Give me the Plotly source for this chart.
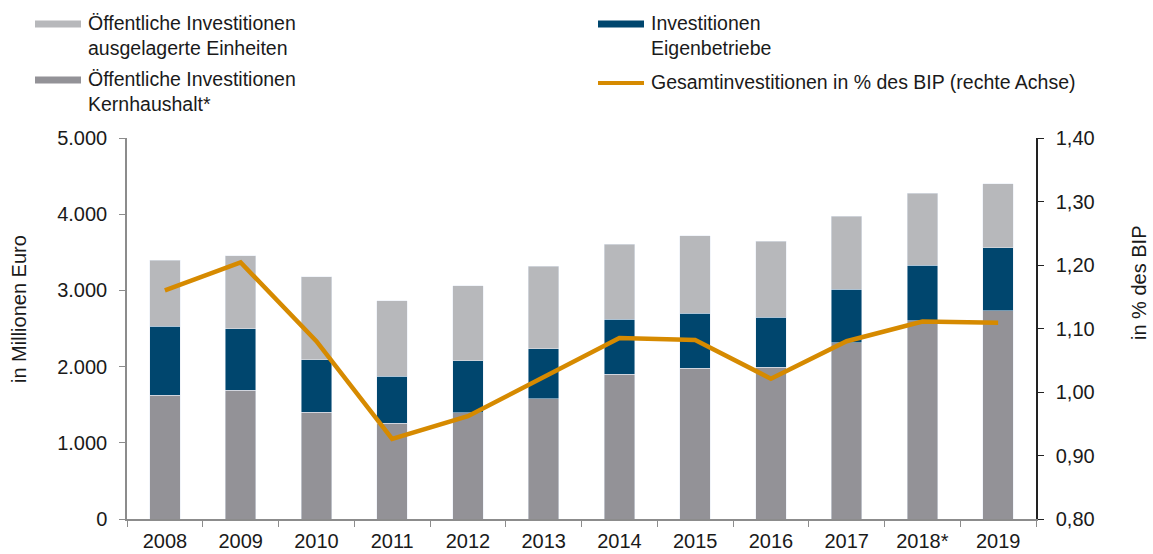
import plotly.graph_objects as go

years = ["2008", "2009", "2010", "2011", "2012", "2013", "2014", "2015", "2016", "2017", "2018*", "2019"]
kernhaushalt = [1625, 1692, 1404, 1257, 1395, 1575, 1902, 1976, 1993, 2312, 2605, 2730]
eigenbetriebe = [905, 808, 685, 619, 681, 658, 720, 724, 655, 706, 728, 830]
ausgelagert = [865, 958, 1092, 990, 982, 1082, 981, 1017, 995, 956, 939, 838]
bip_anteil = [1.160, 1.204, 1.080, 0.926, 0.962, 1.024, 1.085, 1.082, 1.021, 1.080, 1.111, 1.109]

left_ticks = [0, 1000, 2000, 3000, 4000, 5000]
right_ticks = [0.8, 0.9, 1.0, 1.1, 1.2, 1.3, 1.4]

C_LIGHT = "#B7B8BB"
C_BLUE = "#00466E"
C_DARK = "#939297"
C_ORANGE = "#D68A00"
TEXT = "#1a1a1a"
FONT = "Liberation Sans, Arial, sans-serif"

W, H = 1153, 554
M = dict(l=127, r=117, t=138, b=35)
PW = W - M["l"] - M["r"]
PH = H - M["t"] - M["b"]


def px(x):
    return (x - M["l"]) / PW


def py(y):
    return (H - M["b"] - y) / PH


fig = go.Figure()
fig.add_trace(go.Bar(x=years, y=kernhaushalt, marker_color=C_DARK, name="Kernhaushalt"))
fig.add_trace(go.Bar(x=years, y=eigenbetriebe, marker_color=C_BLUE, name="Eigenbetriebe"))
fig.add_trace(go.Bar(x=years, y=ausgelagert, marker_color=C_LIGHT, name="ausgelagert"))
fig.add_trace(
    go.Scatter(
        x=years,
        y=bip_anteil,
        yaxis="y2",
        mode="lines",
        line=dict(color=C_ORANGE, width=4.5),
        name="BIP",
    )
)

fig.update_layout(
    width=W,
    height=H,
    margin=M,
    barmode="stack",
    bargap=0.6,
    showlegend=False,
    separators=",.",
    paper_bgcolor="white",
    plot_bgcolor="white",
    font=dict(family=FONT, size=20, color=TEXT),
    xaxis=dict(
        automargin=False,
        showline=True,
        linecolor="#8c8c8c",
        linewidth=1.5,
        ticks="outside",
        tickson="boundaries",
        ticklen=6,
        tickcolor="#8c8c8c",
        showgrid=False,
        ticklabelstandoff=3,
        tickfont=dict(size=20, color=TEXT),
    ),
    yaxis=dict(
        automargin=False,
        range=[0, 5000],
        tickvals=left_ticks,
        tickformat=",.0f",
        showline=True,
        linecolor="#8c8c8c",
        linewidth=1.5,
        ticks="outside",
        ticklen=6,
        tickcolor="#8c8c8c",
        showgrid=False,
        zeroline=False,
        ticklabelstandoff=8,
    ),
    yaxis2=dict(
        automargin=False,
        range=[0.8, 1.4],
        tickvals=right_ticks,
        tickformat=".2f",
        overlaying="y",
        side="right",
        showline=True,
        linecolor="#222222",
        linewidth=1.5,
        ticks="outside",
        ticklen=6,
        tickcolor="#222222",
        showgrid=False,
        zeroline=False,
        ticklabelstandoff=8,
    ),
)

# axis titles
fig.add_annotation(x=px(19), y=py(309), xref="paper", yref="paper", text="in Millionen Euro",
                   textangle=-90, showarrow=False, xanchor="center", yanchor="middle",
                   font=dict(size=20))
fig.add_annotation(x=px(1139), y=py(283), xref="paper", yref="paper", text="in % des BIP",
                   textangle=-90, showarrow=False, xanchor="center", yanchor="middle",
                   font=dict(size=20))

# legend drawn by hand
legend = [
    ("rect", C_LIGHT, 35, 24, "Öffentliche Investitionen<br>ausgelagerte Einheiten"),
    ("rect", C_DARK, 35, 80, "Öffentliche Investitionen<br>Kernhaushalt*"),
    ("rect", C_BLUE, 598, 24, "Investitionen<br>Eigenbetriebe"),
    ("line", C_ORANGE, 598, 83, "Gesamtinvestitionen in % des BIP (rechte Achse)"),
]
for kind, color, x0, yc, label in legend:
    if kind == "rect":
        fig.add_shape(type="rect", xref="paper", yref="paper",
                      x0=px(x0), x1=px(x0 + 46), y0=py(yc - 3.5), y1=py(yc + 3.5),
                      fillcolor=color, line_width=0)
    else:
        fig.add_shape(type="line", xref="paper", yref="paper",
                      x0=px(x0), x1=px(x0 + 46), y0=py(yc), y1=py(yc),
                      line=dict(color=color, width=4))
    fig.add_annotation(x=px(x0 + 52), y=py(yc - 13), xref="paper", yref="paper",
                       text=label, showarrow=False, xanchor="left", yanchor="top",
                       align="left", font=dict(size=19.5), borderpad=0)

fig.write_html(
    "out.html",
    config={"displayModeBar": False},
    post_script="document.body.style.margin='0px';",
)
